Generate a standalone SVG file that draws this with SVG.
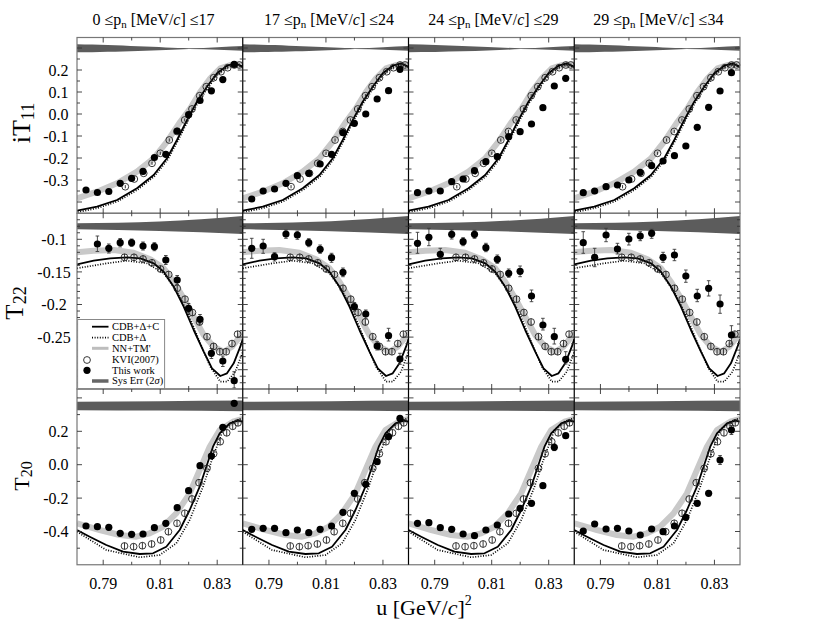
<svg xmlns="http://www.w3.org/2000/svg" width="830" height="623" viewBox="0 0 830 623">
<style>
text{font-family:"Liberation Serif","DejaVu Serif",serif;fill:#000}
.tl{font-size:16px}
.tt{font-size:16px}
.lg{font-size:10.5px}
.fr{fill:none;stroke:#777;stroke-width:1.2}
.dv{stroke:#000;stroke-width:1.2}
.tk{fill:none;stroke:#333;stroke-width:0.9}
.sol{fill:none;stroke:#000;stroke-width:1.8;stroke-linejoin:round}
.dot{fill:none;stroke:#000;stroke-width:1.7;stroke-dasharray:1 1.6}
.nn{fill:none;stroke:#c9c9c9;stroke-width:6;stroke-linejoin:round}
.sys{fill:#5c5c5c}
.eb{fill:none;stroke:#3a3a3a;stroke-width:0.9}
.tw{fill:#000}
</style>
<defs>
<clipPath id="c1"><rect x="0" y="37.5" width="165.75" height="175.75"/></clipPath>
<clipPath id="c2"><rect x="0" y="213.25" width="165.75" height="175.75"/></clipPath>
<clipPath id="c3"><rect x="0" y="389" width="165.75" height="175.75"/></clipPath>
<g id="m1" fill="none" stroke="#222" stroke-width="0.9"><circle r="3.4"/><line y1="-1.6" y2="1.6"/></g>
<g id="m2" fill="none" stroke="#222" stroke-width="0.9"><circle r="3.4"/><line y1="-3.4" y2="3.4"/></g>
<path id="s1" class="sol" d="M0 210.7L20 206.7L40 200L60 188.3L76.7 175L90 158.3L100 140L110 120L120 101.7L130 86.7L140 73.3L150 65.7L158.3 63.3L165.75 66.7"/>
<g id="r1">
<path class="sys" d="M0 44.3C40 45 85 47.5 112 48.3C132 48 150 46.5 165.75 46L165.75 50.7C150 50.2 132 49.4 112 49C85 50.5 40 52 0 52.3Z"/>
<path class="nn" d="M0 198.3L20 191.7L40 183.3L60 171.7L76.7 158.3L90 141.7L103.3 121.7L113.3 108.3L123.3 91.7L133.3 78.3L143.3 68.3L153.3 65L165.75 64.5"/>
<path class="dot" transform="translate(0.6,1.4)" d="M0 210.7L20 206.7L40 200L60 188.3L76.7 175L90 158.3L100 140L110 120L120 101.7L130 86.7L140 73.3L150 65.7L158.3 63.3L165.75 66.7"/>
<use href="#s1"/>
</g>
<g id="r2">
<path class="sys" d="M0 223.3C55 223 110 221 165.75 216L165.75 234C110 231.5 55 230 0 229.3Z"/>
<path class="nn" d="M0 252.3L16.7 250.7L36.7 250L56.7 252.7L73.3 259.3L86.7 268.3L96.7 281.7L106.7 298.3L116.7 316.7L126.7 335L136.7 346.7L146.7 351.7L155 346.7L161.7 338.3L165.75 332"/>
<path class="dot" d="M0 268.3L30 263.3L50 260.7L70 263.3L86.7 273.3L100 291.7L111.7 315L123.3 343.3L133.3 366.7L143.3 381.7L150 381.7L158.3 371.7L165.75 352"/>
<path class="sol" d="M0 264.3L16.7 260.7L33.3 258.3L50 257.3L63.3 258.3L76.7 263.3L86.7 271.7L96.7 286.7L106.7 306.7L116.7 330L126.7 351.7L135 368.3L143.3 376L150 373.3L156.7 363.3L163.3 346.7L165.75 339"/>
</g>
<g id="r3">
<path class="sys" d="M0 401.7C55 401.5 110 401 165.75 400.5L165.75 411.2C110 410.8 55 410.5 0 410.3Z"/>
<path class="nn" d="M0 523.3L22.7 530L42.7 535L59.3 536.7L72.7 533.3L86 526.7L99.3 513.3L112.7 493.3L122.7 470L132.7 446.7L142.7 430L156 421.7L165.75 419"/>
<path class="dot" d="M0 531.7L29.3 550L62.7 557.3L82.7 555L99.3 543.3L112.7 520L126 486.7L136 456.7L146 430L156 421.7L165.75 418"/>
<path class="sol" d="M0 530L12.7 536.7L29.3 545L46 551.7L62.7 554L76 553.3L89.3 546.7L102.7 530L112.7 510L122.7 486.7L129.3 466.7L136 446.7L142.7 433.3L152.7 423.3L161 420.7L165.75 421.7"/>
</g>
<g id="k1">
<use href="#m1" x="48.3" y="186.7"/><use href="#m1" x="57.3" y="179"/><use href="#m1" x="66.7" y="173.3"/><use href="#m1" x="75" y="163.3"/><use href="#m1" x="83.3" y="153.3"/><use href="#m1" x="92.3" y="140"/><use href="#m1" x="100" y="131.5"/><use href="#m1" x="107.7" y="120"/><use href="#m1" x="115" y="109"/><use href="#m1" x="122.7" y="95.7"/><use href="#m1" x="129.3" y="86.7"/><use href="#m1" x="136.7" y="77.7"/><use href="#m1" x="144" y="71.7"/><use href="#m1" x="150.7" y="67.7"/><use href="#m1" x="157.3" y="65"/><use href="#m1" x="162.3" y="65"/>
</g>
<g id="k2">
<use href="#m2" x="47.5" y="257.3"/><use href="#m2" x="57" y="257.3"/><use href="#m2" x="66" y="259"/><use href="#m2" x="75" y="262.8"/><use href="#m2" x="83.5" y="269"/><use href="#m2" x="91.7" y="274.5"/><use href="#m2" x="100.2" y="288.3"/><use href="#m2" x="108" y="299.2"/><use href="#m2" x="115.4" y="312.5"/><use href="#m2" x="122.6" y="322"/><use href="#m2" x="130" y="336.7"/><use href="#m2" x="136.6" y="346.4"/><use href="#m2" x="142.8" y="351.7"/><use href="#m2" x="149.2" y="351.7"/><use href="#m2" x="155" y="343.6"/><use href="#m2" x="160.6" y="334.2"/>
</g>
<g id="k3">
<use href="#m2" x="47.5" y="546"/><use href="#m2" x="56.6" y="546.7"/><use href="#m2" x="65.4" y="545.7"/><use href="#m2" x="74.6" y="544"/><use href="#m2" x="83.7" y="540"/><use href="#m2" x="91.4" y="531.7"/><use href="#m2" x="100" y="523.3"/><use href="#m2" x="107.8" y="513.3"/><use href="#m2" x="115" y="499"/><use href="#m2" x="122" y="482.7"/><use href="#m2" x="130" y="468.3"/><use href="#m2" x="136.6" y="453.7"/><use href="#m2" x="143.2" y="441.7"/><use href="#m2" x="149.7" y="432.8"/><use href="#m2" x="155.7" y="426.3"/><use href="#m2" x="161" y="422.8"/>
</g>
<path id="xt" class="tk" d="M26.2 0v5M54.7 0v3M83.2 0v5M111.7 0v3M140.2 0v5M26.2 175.75v-5M54.7 175.75v-3M83.2 175.75v-5M111.7 175.75v-3M140.2 175.75v-5"/>
<path id="y1" class="tk" d="M0 48h5M0 70h5M0 92h5M0 114h5M0 136h5M0 158h5M0 180h5M0 202h5M0 59h3M0 81h3M0 103h3M0 125h3M0 147h3M0 169h3M0 191h3M165.75 48h-5M165.75 70h-5M165.75 92h-5M165.75 114h-5M165.75 136h-5M165.75 158h-5M165.75 180h-5M165.75 202h-5M165.75 59h-3M165.75 81h-3M165.75 103h-3M165.75 125h-3M165.75 147h-3M165.75 169h-3M165.75 191h-3"/>
<path id="y2" class="tk" d="M0 239.3h5M0 271.9h5M0 304.5h5M0 337.1h5M0 369.7h5M0 219.74h3M0 226.26h3M0 232.78h3M0 245.82h3M0 252.34h3M0 258.86h3M0 265.38h3M0 278.42h3M0 284.94h3M0 291.46h3M0 297.98h3M0 311.02h3M0 317.54h3M0 324.06h3M0 330.58h3M0 343.62h3M0 350.14h3M0 356.66h3M0 363.18h3M0 376.22h3M0 382.74h3M165.75 239.3h-5M165.75 271.9h-5M165.75 304.5h-5M165.75 337.1h-5M165.75 369.7h-5M165.75 219.74h-3M165.75 226.26h-3M165.75 232.78h-3M165.75 245.82h-3M165.75 252.34h-3M165.75 258.86h-3M165.75 265.38h-3M165.75 278.42h-3M165.75 284.94h-3M165.75 291.46h-3M165.75 297.98h-3M165.75 311.02h-3M165.75 317.54h-3M165.75 324.06h-3M165.75 330.58h-3M165.75 343.62h-3M165.75 350.14h-3M165.75 356.66h-3M165.75 363.18h-3M165.75 376.22h-3M165.75 382.74h-3"/>
<path id="y3" class="tk" d="M0 397.9h5M0 431.3h5M0 464.7h5M0 498.1h5M0 531.5h5M0 414.6h3M0 448h3M0 481.4h3M0 514.8h3M0 548.2h3M165.75 397.9h-5M165.75 431.3h-5M165.75 464.7h-5M165.75 498.1h-5M165.75 531.5h-5M165.75 414.6h-3M165.75 448h-3M165.75 481.4h-3M165.75 514.8h-3M165.75 548.2h-3"/>
</defs>
<rect width="830" height="623" fill="#fff"/>

<!-- Row 1: iT11 -->
<g id="p-r1-c1" transform="translate(77,0)">
<g clip-path="url(#c1)"><use href="#r1"/></g><use href="#k1"/>
<g class="tw"><circle cx="9" cy="190" r="3.6"/><circle cx="20.4" cy="192.5" r="3.6"/><circle cx="31.8" cy="191.5" r="3.6"/><circle cx="43.2" cy="183.3" r="3.6"/><circle cx="54.6" cy="178.3" r="3.6"/><circle cx="66" cy="171.4" r="3.6"/><circle cx="77.4" cy="157.5" r="3.6"/><circle cx="88.8" cy="154.3" r="3.6"/><circle cx="100.2" cy="131" r="3.6"/><circle cx="111.6" cy="114.7" r="3.6"/><circle cx="123" cy="100.5" r="3.6"/><circle cx="134.4" cy="90.8" r="3.6"/><circle cx="145.8" cy="79.6" r="3.6"/><circle cx="157.2" cy="64.3" r="3.6"/></g>
</g>
<g id="p-r1-c2" transform="translate(242.75,0)">
<g clip-path="url(#c1)"><use href="#r1"/></g><use href="#k1"/>
<g class="tw"><circle cx="9" cy="199" r="3.6"/><circle cx="20.4" cy="191" r="3.6"/><circle cx="31.8" cy="189" r="3.6"/><circle cx="43.2" cy="183.3" r="3.6"/><circle cx="54.6" cy="175.7" r="3.6"/><circle cx="66" cy="173.3" r="3.6"/><circle cx="77.4" cy="164" r="3.6"/><circle cx="88.8" cy="154.3" r="3.6"/><circle cx="100.2" cy="132.7" r="3.6"/><circle cx="111.6" cy="123.3" r="3.6"/><circle cx="123" cy="114" r="3.6"/><circle cx="134.4" cy="99" r="3.6"/><circle cx="145.8" cy="90.7" r="3.6"/><circle cx="157.2" cy="69.3" r="3.6"/></g>
</g>
<g id="p-r1-c3" transform="translate(408.5,0)">
<g clip-path="url(#c1)"><use href="#r1"/></g><use href="#k1"/>
<g class="tw"><circle cx="9" cy="192.7" r="3.6"/><circle cx="20.4" cy="191" r="3.6"/><circle cx="31.8" cy="191" r="3.6"/><circle cx="43.2" cy="181.7" r="3.6"/><circle cx="54.6" cy="179" r="3.6"/><circle cx="66" cy="170.7" r="3.6"/><circle cx="77.4" cy="161.7" r="3.6"/><circle cx="88.8" cy="156.7" r="3.6"/><circle cx="100.2" cy="136.7" r="3.6"/><circle cx="111.6" cy="131.7" r="3.6"/><circle cx="123" cy="124" r="3.6"/><circle cx="134.4" cy="107.7" r="3.6"/><circle cx="145.8" cy="86" r="3.6"/><circle cx="157.2" cy="78.3" r="3.6"/></g>
</g>
<g id="p-r1-c4" transform="translate(574.25,0)">
<g clip-path="url(#c1)"><use href="#r1"/></g><use href="#k1"/>
<g class="tw"><circle cx="9" cy="192.7" r="3.6"/><circle cx="20.4" cy="191" r="3.6"/><circle cx="31.8" cy="186.7" r="3.6"/><circle cx="43.2" cy="185" r="3.6"/><circle cx="54.6" cy="180" r="3.6"/><circle cx="66" cy="172.3" r="3.6"/><circle cx="77.4" cy="165.7" r="3.6"/><circle cx="88.8" cy="161" r="3.6"/><circle cx="100.2" cy="155.7" r="3.6"/><circle cx="111.6" cy="146" r="3.6"/><circle cx="123" cy="127.3" r="3.6"/><circle cx="134.4" cy="107.3" r="3.6"/><circle cx="145.8" cy="91" r="3.6"/><circle cx="157.2" cy="72.7" r="3.6"/></g>
</g>

<!-- Row 2: T22 -->
<g id="p-r2-c1" transform="translate(77,0)">
<g clip-path="url(#c2)"><use href="#r2"/></g><use href="#k2"/>
<path class="eb" d="M20.4 236V251.5M18.6 236h3.6M18.6 251.5h3.6M31.8 244V253M30 244h3.6M30 253h3.6M43.2 238.5V246.9M41.4 238.5h3.6M41.4 246.9h3.6M54.6 239V246.4M52.8 239h3.6M52.8 246.4h3.6M66 242V250M64.2 242h3.6M64.2 250h3.6M77.4 242.7V250.7M75.6 242.7h3.6M75.6 250.7h3.6M88.8 255.5V264.5M87 255.5h3.6M87 264.5h3.6M100.2 275.5V284.5M98.4 275.5h3.6M98.4 284.5h3.6M111.6 303.5V313M109.8 303.5h3.6M109.8 313h3.6M123 314.5V324M121.2 314.5h3.6M121.2 324h3.6M134.4 348.5V358.5M132.6 348.5h3.6M132.6 358.5h3.6M145.8 356V366.5M144 356h3.6M144 366.5h3.6M157.2 371.7V388M155.4 371.7h3.6M155.4 388h3.6"/>
<g class="tw"><circle cx="20.4" cy="244" r="3.6"/><circle cx="31.8" cy="248.3" r="3.6"/><circle cx="43.2" cy="242.7" r="3.6"/><circle cx="54.6" cy="242.7" r="3.6"/><circle cx="66" cy="246" r="3.6"/><circle cx="77.4" cy="246.7" r="3.6"/><circle cx="88.8" cy="260" r="3.6"/><circle cx="100.2" cy="280" r="3.6"/><circle cx="111.6" cy="308.3" r="3.6"/><circle cx="123" cy="319.3" r="3.6"/><circle cx="134.4" cy="353.3" r="3.6"/><circle cx="145.8" cy="361" r="3.6"/><circle cx="157.2" cy="380.7" r="3.6"/></g>
</g>
<g id="p-r2-c2" transform="translate(242.75,0)">
<g clip-path="url(#c2)"><use href="#r2"/></g><use href="#k2"/>
<path class="eb" d="M9 238.3V258.3M7.2 238.3h3.6M7.2 258.3h3.6M20.4 239.3V253.3M18.6 239.3h3.6M18.6 253.3h3.6M31.8 252.7V261M30 252.7h3.6M30 261h3.6M43.2 230V238.3M41.4 230h3.6M41.4 238.3h3.6M54.6 231.2V239.3M52.8 231.2h3.6M52.8 239.3h3.6M66 238.7V246.7M64.2 238.7h3.6M64.2 246.7h3.6M77.4 245V253.3M75.6 245h3.6M75.6 253.3h3.6M88.8 253.3V262.3M87 253.3h3.6M87 262.3h3.6M100.2 268V276.7M98.4 268h3.6M98.4 276.7h3.6M111.6 302.5V311M109.8 302.5h3.6M109.8 311h3.6M123 310V318.3M121.2 310h3.6M121.2 318.3h3.6M134.4 341.7V350M132.6 341.7h3.6M132.6 350h3.6M145.8 328.3V341M144 328.3h3.6M144 341h3.6M157.2 353.3V364.3M155.4 353.3h3.6M155.4 364.3h3.6"/>
<g class="tw"><circle cx="9" cy="248.3" r="3.6"/><circle cx="20.4" cy="246" r="3.6"/><circle cx="31.8" cy="256.7" r="3.6"/><circle cx="43.2" cy="234" r="3.6"/><circle cx="54.6" cy="235" r="3.6"/><circle cx="66" cy="242.7" r="3.6"/><circle cx="77.4" cy="249.3" r="3.6"/><circle cx="88.8" cy="257.7" r="3.6"/><circle cx="100.2" cy="272.3" r="3.6"/><circle cx="111.6" cy="306.7" r="3.6"/><circle cx="123" cy="314" r="3.6"/><circle cx="134.4" cy="346" r="3.6"/><circle cx="145.8" cy="335.7" r="3.6"/><circle cx="157.2" cy="359" r="3.6"/></g>
</g>
<g id="p-r2-c3" transform="translate(408.5,0)">
<g clip-path="url(#c2)"><use href="#r2"/></g><use href="#k2"/>
<path class="eb" d="M9 232.3V253.3M7.2 232.3h3.6M7.2 253.3h3.6M20.4 228.3V245.7M18.6 228.3h3.6M18.6 245.7h3.6M31.8 248.3V259.3M30 248.3h3.6M30 259.3h3.6M43.2 230V239M41.4 230h3.6M41.4 239h3.6M54.6 237.7V245.7M52.8 237.7h3.6M52.8 245.7h3.6M66 230.3V238.3M64.2 230.3h3.6M64.2 238.3h3.6M77.4 243.3V251.7M75.6 243.3h3.6M75.6 251.7h3.6M88.8 255V263.3M87 255h3.6M87 263.3h3.6M100.2 269V277.3M98.4 269h3.6M98.4 277.3h3.6M111.6 266V276.7M109.8 266h3.6M109.8 276.7h3.6M123 290V301.7M121.2 290h3.6M121.2 301.7h3.6M134.4 318.3V330M132.6 318.3h3.6M132.6 330h3.6M145.8 328.3V344M144 328.3h3.6M144 344h3.6M157.2 351.7V364M155.4 351.7h3.6M155.4 364h3.6"/>
<g class="tw"><circle cx="9" cy="243.3" r="3.6"/><circle cx="20.4" cy="237.3" r="3.6"/><circle cx="31.8" cy="254.3" r="3.6"/><circle cx="43.2" cy="234.3" r="3.6"/><circle cx="54.6" cy="241.7" r="3.6"/><circle cx="66" cy="234.3" r="3.6"/><circle cx="77.4" cy="247.7" r="3.6"/><circle cx="88.8" cy="259.3" r="3.6"/><circle cx="100.2" cy="273.3" r="3.6"/><circle cx="111.6" cy="271.3" r="3.6"/><circle cx="123" cy="296" r="3.6"/><circle cx="134.4" cy="325" r="3.6"/><circle cx="145.8" cy="336.7" r="3.6"/><circle cx="157.2" cy="359.3" r="3.6"/></g>
</g>
<g id="p-r2-c4" transform="translate(574.25,0)">
<g clip-path="url(#c2)"><use href="#r2"/></g><use href="#k2"/>
<path class="eb" d="M9 231.7V253.3M7.2 231.7h3.6M7.2 253.3h3.6M20.4 248.3V266.7M18.6 248.3h3.6M18.6 266.7h3.6M31.8 228.3V241.7M30 228.3h3.6M30 241.7h3.6M43.2 243.3V254M41.4 243.3h3.6M41.4 254h3.6M54.6 233.3V245M52.8 233.3h3.6M52.8 245h3.6M66 231.7V240.7M64.2 231.7h3.6M64.2 240.7h3.6M77.4 229.3V238.3M75.6 229.3h3.6M75.6 238.3h3.6M88.8 252.3V262.3M87 252.3h3.6M87 262.3h3.6M100.2 249.3V260.7M98.4 249.3h3.6M98.4 260.7h3.6M111.6 270V282.3M109.8 270h3.6M109.8 282.3h3.6M123 289.3V301.7M121.2 289.3h3.6M121.2 301.7h3.6M134.4 280.7V296M132.6 280.7h3.6M132.6 296h3.6M145.8 295V313.3M144 295h3.6M144 313.3h3.6M157.2 325.7V344M155.4 325.7h3.6M155.4 344h3.6"/>
<g class="tw"><circle cx="9" cy="242.7" r="3.6"/><circle cx="20.4" cy="257.3" r="3.6"/><circle cx="31.8" cy="235" r="3.6"/><circle cx="43.2" cy="249" r="3.6"/><circle cx="54.6" cy="239" r="3.6"/><circle cx="66" cy="236" r="3.6"/><circle cx="77.4" cy="233.3" r="3.6"/><circle cx="88.8" cy="257.3" r="3.6"/><circle cx="100.2" cy="255" r="3.6"/><circle cx="111.6" cy="276" r="3.6"/><circle cx="123" cy="296" r="3.6"/><circle cx="134.4" cy="288.3" r="3.6"/><circle cx="145.8" cy="304" r="3.6"/><circle cx="157.2" cy="335" r="3.6"/></g>
</g>

<!-- Row 3: T20 -->
<g id="p-r3-c1" transform="translate(77,0)">
<g clip-path="url(#c3)"><use href="#r3"/></g><use href="#k3"/>
<g class="tw"><circle cx="9" cy="526" r="3.6"/><circle cx="20.4" cy="526.7" r="3.6"/><circle cx="31.8" cy="527.3" r="3.6"/><circle cx="43.2" cy="533.3" r="3.6"/><circle cx="54.6" cy="534.3" r="3.6"/><circle cx="66" cy="534" r="3.6"/><circle cx="77.4" cy="527.7" r="3.6"/><circle cx="88.8" cy="523.3" r="3.6"/><circle cx="100.2" cy="507.7" r="3.6"/><circle cx="111.6" cy="490.7" r="3.6"/><circle cx="123" cy="465.7" r="3.6"/><circle cx="134.4" cy="456" r="3.6"/><circle cx="145.8" cy="427.3" r="3.6"/><circle cx="157.2" cy="403.3" r="3.6"/></g>
</g>
<g id="p-r3-c2" transform="translate(242.75,0)">
<g clip-path="url(#c3)"><use href="#r3"/></g><use href="#k3"/>
<g class="tw"><circle cx="9" cy="529.3" r="3.6"/><circle cx="20.4" cy="528.3" r="3.6"/><circle cx="31.8" cy="528.3" r="3.6"/><circle cx="43.2" cy="532.7" r="3.6"/><circle cx="54.6" cy="530" r="3.6"/><circle cx="66" cy="532.7" r="3.6"/><circle cx="77.4" cy="529.3" r="3.6"/><circle cx="88.8" cy="526" r="3.6"/><circle cx="100.2" cy="512.3" r="3.6"/><circle cx="111.6" cy="493.3" r="3.6"/><circle cx="123" cy="484.3" r="3.6"/><circle cx="134.4" cy="461.7" r="3.6"/><circle cx="145.8" cy="436.7" r="3.6"/><circle cx="157.2" cy="418.3" r="3.6"/></g>
</g>
<g id="p-r3-c3" transform="translate(408.5,0)">
<g clip-path="url(#c3)"><use href="#r3"/></g><use href="#k3"/>
<path class="eb" d="M145.8 444V450.6M144 444h3.6M144 450.6h3.6"/>
<g class="tw"><circle cx="9" cy="523.3" r="3.6"/><circle cx="20.4" cy="522.7" r="3.6"/><circle cx="31.8" cy="527.7" r="3.6"/><circle cx="43.2" cy="529.3" r="3.6"/><circle cx="54.6" cy="534" r="3.6"/><circle cx="66" cy="535.7" r="3.6"/><circle cx="77.4" cy="530" r="3.6"/><circle cx="88.8" cy="525" r="3.6"/><circle cx="100.2" cy="514" r="3.6"/><circle cx="111.6" cy="508.3" r="3.6"/><circle cx="123" cy="503.3" r="3.6"/><circle cx="134.4" cy="485.7" r="3.6"/><circle cx="145.8" cy="447.3" r="3.6"/><circle cx="157.2" cy="435.7" r="3.6"/></g>
</g>
<g id="p-r3-c4" transform="translate(574.25,0)">
<g clip-path="url(#c3)"><use href="#r3"/></g><use href="#k3"/>
<path class="eb" d="M145.8 455.5V464.5M144 455.5h3.6M144 464.5h3.6M157.2 425.5V434.5M155.4 425.5h3.6M155.4 434.5h3.6"/>
<g class="tw"><circle cx="9" cy="531" r="3.6"/><circle cx="20.4" cy="524" r="3.6"/><circle cx="31.8" cy="529" r="3.6"/><circle cx="43.2" cy="528.3" r="3.6"/><circle cx="54.6" cy="531" r="3.6"/><circle cx="66" cy="535" r="3.6"/><circle cx="77.4" cy="529" r="3.6"/><circle cx="88.8" cy="531.7" r="3.6"/><circle cx="100.2" cy="526" r="3.6"/><circle cx="111.6" cy="517.3" r="3.6"/><circle cx="123" cy="503.3" r="3.6"/><circle cx="134.4" cy="493.3" r="3.6"/><circle cx="145.8" cy="460" r="3.6"/><circle cx="157.2" cy="430" r="3.6"/></g>
</g>

<!-- Frames and ticks -->
<g id="frames">
<rect class="fr" x="77" y="37.5" width="663" height="175.75"/>
<rect class="fr" x="77" y="213.25" width="663" height="175.75"/>
<rect class="fr" x="77" y="389" width="663" height="175.75"/>
<path class="dv" d="M242.75 37.5V564.75M408.5 37.5V564.75M574.25 37.5V564.75"/>
</g>
<g id="ticks">
<use href="#xt" x="77" y="37.5"/><use href="#xt" x="242.75" y="37.5"/><use href="#xt" x="408.5" y="37.5"/><use href="#xt" x="574.25" y="37.5"/>
<use href="#xt" x="77" y="213.25"/><use href="#xt" x="242.75" y="213.25"/><use href="#xt" x="408.5" y="213.25"/><use href="#xt" x="574.25" y="213.25"/>
<use href="#xt" x="77" y="389"/><use href="#xt" x="242.75" y="389"/><use href="#xt" x="408.5" y="389"/><use href="#xt" x="574.25" y="389"/>
<use href="#y1" x="77"/><use href="#y1" x="242.75"/><use href="#y1" x="408.5"/><use href="#y1" x="574.25"/>
<use href="#y2" x="77"/><use href="#y2" x="242.75"/><use href="#y2" x="408.5"/><use href="#y2" x="574.25"/>
<use href="#y3" x="77"/><use href="#y3" x="242.75"/><use href="#y3" x="408.5"/><use href="#y3" x="574.25"/>
</g>

<!-- Legend -->
<g id="legend">
<rect x="77.6" y="319.5" width="87" height="69" fill="#fff" stroke="#888" stroke-width="1"/>
<line class="sol" x1="92" y1="326.7" x2="108.5" y2="326.7"/>
<line class="dot" x1="92" y1="337.7" x2="108.5" y2="337.7"/>
<line x1="92" y1="348.3" x2="108.5" y2="348.3" stroke="#bdbdbd" stroke-width="3"/>
<circle cx="87" cy="360" r="3.4" fill="none" stroke="#222" stroke-width="0.9"/>
<circle cx="87" cy="370.3" r="3.6"/>
<line x1="92" y1="381" x2="108.5" y2="381" stroke="#666" stroke-width="3.5"/>
<text class="lg" x="112" y="330">CDB+Δ+C</text>
<text class="lg" x="112" y="341">CDB+Δ</text>
<text class="lg" x="112" y="351.6">NN+TM'</text>
<text class="lg" x="112" y="363.3">KVI(2007)</text>
<text class="lg" x="112" y="373.6">This work</text>
<text class="lg" x="112" y="384.3">Sys Err (2<tspan font-style="italic">σ</tspan>)</text>
</g>

<!-- Titles -->
<g id="titles" class="tt" text-anchor="middle">
<text x="153.5" y="25">0 ≤p<tspan font-size="11" dy="3">n</tspan><tspan dy="-3"> [MeV/</tspan><tspan font-style="italic">c</tspan>] ≤17</text>
<text x="329" y="25">17 ≤p<tspan font-size="11" dy="3">n</tspan><tspan dy="-3"> [MeV/</tspan><tspan font-style="italic">c</tspan>] ≤24</text>
<text x="493.3" y="25">24 ≤p<tspan font-size="11" dy="3">n</tspan><tspan dy="-3"> [MeV/</tspan><tspan font-style="italic">c</tspan>] ≤29</text>
<text x="658.3" y="25">29 ≤p<tspan font-size="11" dy="3">n</tspan><tspan dy="-3"> [MeV/</tspan><tspan font-style="italic">c</tspan>] ≤34</text>
</g>

<!-- Axis labels -->
<g id="ylabels">
<text transform="translate(30,123) rotate(-90)" text-anchor="middle" font-size="26">iT<tspan font-size="18" dy="4">11</tspan></text>
<text transform="translate(23,303) rotate(-90)" text-anchor="middle" font-size="25">T<tspan font-size="18" dy="3">22</tspan></text>
<text transform="translate(28.5,476) rotate(-90)" text-anchor="middle" font-size="22">T<tspan font-size="16" dy="3">20</tspan></text>
</g>
<g id="yticklabels" class="tl">
<g text-anchor="end">
<text x="68.5" y="75.5">0.2</text><text x="68.5" y="97.5">0.1</text><text x="68.5" y="119.5">0.0</text><text x="68.5" y="141.5">-0.1</text><text x="68.5" y="163.5">-0.2</text><text x="68.5" y="185.5">-0.3</text>
<text x="68.5" y="437">0.2</text><text x="68.5" y="470.4">0.0</text><text x="68.5" y="503.8">-0.2</text><text x="68.5" y="537.2">-0.4</text>
</g>
<g text-anchor="middle">
<text x="54" y="245">-0.1</text><text x="54" y="277.6">-0.15</text><text x="54" y="310.2">-0.2</text><text x="54" y="342.8">-0.25</text>
</g>
</g>
<g id="xticklabels" class="tl" text-anchor="middle">
<text x="103.2" y="588.5">0.79</text><text x="160.2" y="588.5">0.81</text><text x="217.2" y="588.5">0.83</text>
<text x="268.95" y="588.5">0.79</text><text x="325.95" y="588.5">0.81</text><text x="382.95" y="588.5">0.83</text>
<text x="434.7" y="588.5">0.79</text><text x="491.7" y="588.5">0.81</text><text x="548.7" y="588.5">0.83</text>
<text x="600.45" y="588.5">0.79</text><text x="657.45" y="588.5">0.81</text><text x="714.45" y="588.5">0.83</text>
</g>
<text x="424" y="615" text-anchor="middle" font-size="22">u [GeV/<tspan font-style="italic">c</tspan>]<tspan font-size="14" dy="-10">2</tspan></text>
</svg>
